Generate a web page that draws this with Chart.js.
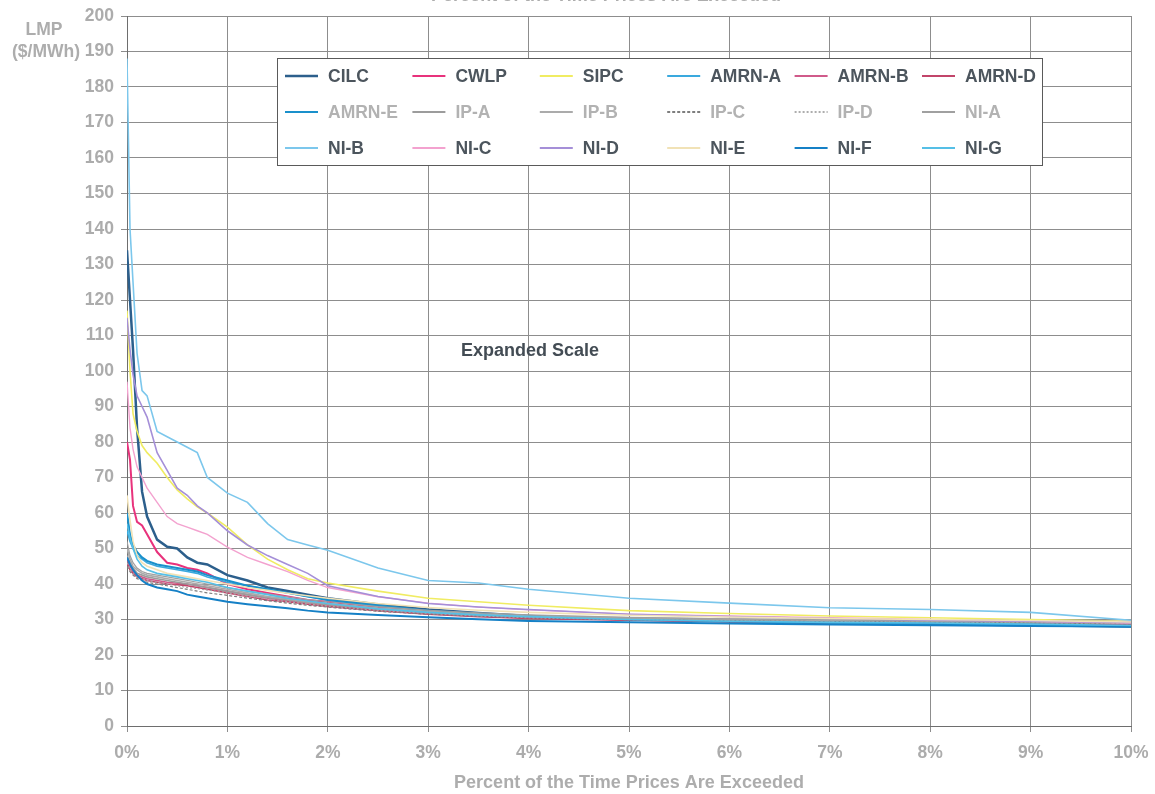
<!DOCTYPE html>
<html>
<head>
<meta charset="utf-8">
<script src="https://cdn.jsdelivr.net/npm/chart.js@4/dist/chart.umd.min.js"></script>
<style>
    body { margin: 0; background: #fff; }
    #wrap { position: relative; width: 1155px; height: 794px; }
</style>
</head>
<body>
<div id="wrap"><canvas id="lmp-chart" width="1155" height="794"></canvas></div>
<script>
// percent of time prices are exceeded (x)
var pct   = [0, 0.03, 0.06, 0.1, 0.15, 0.2, 0.3, 0.4, 0.5, 0.6, 0.7, 0.8, 1.0, 1.2, 1.4, 1.6, 1.8, 2.0, 2.5, 3, 3.5, 4, 5, 6, 7, 8, 9, 10];

// LMP ($/MWh) per zone
var cilc  = [134, 120, 106, 84, 66, 59, 52.5, 50.5, 50, 47.5, 46, 45.5, 42.5, 41, 39, 38, 37, 36, 34.2, 32.8, 31.8, 31, 30, 29.5, 29, 28.7, 28.4, 28];
var cwlp  = [80, 75, 62, 57.5, 56.5, 54, 49, 46, 45.5, 44.5, 44, 43, 40, 38.5, 37.5, 36.5, 35.5, 35, 33.5, 32.3, 31.5, 30.8, 30, 29.6, 29.3, 29, 28.7, 28.4];
var sipc  = [117, 100, 88, 83, 79, 77, 74, 70, 66.5, 64, 61.7, 60, 56, 51, 47, 44, 41.5, 40.3, 38, 36, 35, 34, 32.5, 31.7, 31, 30.5, 30, 29.5];
var amrnA = [55, 52, 50, 48, 47, 46, 45, 44.5, 44, 43.5, 43, 42, 40.5, 39.5, 38.5, 37.5, 36.5, 35.5, 33.8, 32.5, 31.5, 31, 30.2, 29.6, 29.2, 28.9, 28.6, 28.2];
var amrnB = [47, 45, 43.5, 42.5, 42, 41.5, 41, 40.5, 40.2, 40, 39.5, 39, 38, 37, 36, 35.3, 34.7, 34, 32.8, 31.8, 31, 30.5, 29.9, 29.5, 29.3, 29, 28.8, 28.5];
var amrnD = [46, 44, 43, 42, 41.5, 41, 40.5, 40, 39.8, 39.5, 39, 38.5, 37.5, 36.5, 35.5, 35, 34.3, 33.7, 32.5, 31.5, 30.8, 30.3, 29.8, 29.4, 29.1, 28.9, 28.7, 28.4];
var amrnE = [60, 54, 51, 49, 47.5, 46.5, 45.5, 45, 44.5, 44, 43.5, 42.5, 41, 39.5, 38.5, 37.5, 36.5, 35.5, 34, 32.5, 31.6, 31, 30.1, 29.5, 29.1, 28.8, 28.5, 28];
var ipA   = [48, 46, 44.5, 43, 42.5, 42, 41.5, 41, 40.5, 40, 39.5, 39, 38, 37, 36.2, 35.5, 34.8, 34.2, 33, 32, 31.3, 30.8, 30.2, 29.8, 29.5, 29.3, 29.1, 28.8];
var ipB   = [50, 47, 45, 44, 43, 42.5, 42, 41.5, 41, 40.5, 40, 39.5, 38.5, 37.5, 36.5, 35.8, 35, 34.5, 33.2, 32.3, 31.6, 31, 30.5, 30.1, 29.9, 29.7, 29.6, 29.4];
var ipC   = [45, 43.5, 42.5, 41.5, 41, 40.5, 40, 39.5, 39, 38.5, 38, 37.5, 36.8, 36, 35.3, 34.6, 34, 33.5, 32.3, 31.5, 30.9, 30.5, 29.9, 29.6, 29.4, 29.2, 29, 28.7];
var ipD   = [46, 44, 43, 42, 41.5, 41, 40.5, 40, 39.5, 39, 38.7, 38.3, 37.5, 36.6, 35.8, 35, 34.4, 33.8, 32.6, 31.7, 31, 30.5, 30, 29.7, 29.5, 29.3, 29.1, 28.9];
var niA   = [52, 48, 46, 44.5, 43.5, 43, 42.5, 42, 41.5, 41, 40.5, 40, 39, 38, 37.2, 36.4, 35.6, 35, 33.6, 32.6, 31.9, 31.3, 30.6, 30.2, 29.9, 29.6, 29.4, 29.1];
var niB   = [188, 140, 125, 105, 94.5, 93, 83, 81.5, 80, 78.5, 77, 70, 65.6, 63, 57, 52.5, 51, 49.5, 44.5, 41, 40.3, 38.5, 36, 34.6, 33.3, 32.8, 32, 29.8];
var niC   = [97, 84, 78, 73, 70, 67, 63, 59, 57, 56, 55, 54, 50.4, 47.5, 45.5, 43.5, 41, 39, 36.4, 34.6, 33.5, 32.7, 31.5, 31, 30.5, 30, 29.5, 29];
var niD   = [115, 106, 99, 93, 90, 87, 77, 72, 67, 65, 62, 60, 55, 51, 48, 45.5, 43, 39.5, 36.5, 34.5, 33.5, 32.8, 31.5, 30.8, 30.3, 29.8, 29.5, 29.2];
var niE   = [65, 58, 52, 48, 46, 45, 44, 43, 42.5, 42, 41.5, 41, 40, 39, 38.2, 37.4, 36.7, 36, 34.5, 33.4, 32.6, 32, 31.2, 30.7, 30.3, 30, 29.7, 29.3];
var niF   = [47.5, 45.5, 44, 42.5, 41, 40, 39, 38.5, 38, 37, 36.5, 36, 35, 34.3, 33.7, 33.2, 32.5, 32, 31.3, 30.6, 30.1, 29.6, 29.2, 28.9, 28.6, 28.4, 28.2, 28];
var niG   = [57, 53, 50, 47, 45, 44, 43, 42.5, 42, 41.5, 41, 40.5, 39, 38, 37, 36, 35.2, 34.5, 33, 32, 31.3, 30.8, 30, 29.5, 29.2, 29, 28.7, 28.3];

// legend order (3 rows x 6 columns)
var zoneNames  = ["CILC", "CWLP", "SIPC", "AMRN-A", "AMRN-B", "AMRN-D",
                  "AMRN-E", "IP-A", "IP-B", "IP-C", "IP-D", "NI-A",
                  "NI-B", "NI-C", "NI-D", "NI-E", "NI-F", "NI-G"];
var zoneValues = [cilc, cwlp, sipc, amrnA, amrnB, amrnD,
                  amrnE, ipA, ipB, ipC, ipD, niA,
                  niB, niC, niD, niE, niF, niG];

var yTicks = { min: 0, max: 200, step: 10 };
var xTicks = { min: 0, max: 10, step: 1 };

var LMP_Chart =
{
    chart: null,

    colors: ["#2c5f8c", "#e8327c", "#f0ec62", "#3aa9de", "#d05a8a", "#c2456a",
             "#1a90cb", "#9c9c9c", "#ababab", "#7e7e7e", "#a5a5a5", "#a0a0a0",
             "#7cc7ec", "#f3a2cf", "#a58fd8", "#f1e2b6", "#1580c6", "#55bfe6"],
    widths: [2.5, 2, 1.6, 1.6, 1.6, 1.6,
             2, 1.6, 1.6, 1.2, 1.2, 1.2,
             1.6, 1.4, 1.6, 1.6, 2, 1.6],
    dashes: [[], [], [], [], [], [],
             [], [], [], [3, 2], [2, 2], [],
             [], [], [], [], [], []],
    labelColors: ["#4c555d", "#4c555d", "#4c555d", "#4c555d", "#4c555d", "#4c555d",
                  "#b2b2b2", "#b2b2b2", "#b2b2b2", "#b2b2b2", "#b2b2b2", "#b2b2b2",
                  "#4c555d", "#4c555d", "#4c555d", "#4c555d", "#4c555d", "#4c555d"],

    init: function()
    {
        var datasets = [];
        $each(zoneNames, function(i, name){
            datasets.push({
                label: name,
                data: zoneValues[i].map(function(v, k){ return {x: pct[k], y: v}; }),
                borderColor: LMP_Chart.colors[i],
                borderWidth: LMP_Chart.widths[i],
                borderDash: LMP_Chart.dashes[i],
                pointRadius: 0,
                tension: 0,
                fill: false
            });
        });

        var tickFont = { family: "Liberation Sans, Arial", size: 17.5, weight: "bold" };
        var container = document.getElementById("lmp-chart");
        this.chart = new Chart(container, {
            type: "line",
            data: { datasets: datasets.reverse() },
            options: {
                responsive: false,
                animation: false,
                layout: { padding: { top: 16, right: 24, left: 0, bottom: 0 } },
                plugins: {
                    legend: { display: false },
                    tooltip: { enabled: false }
                },
                scales: {
                    x: {
                        type: "linear",
                        min: xTicks.min,
                        max: xTicks.max,
                        afterFit: function(scale){
                            scale.height = 68;
                            scale.paddingLeft = 0;
                            scale.paddingRight = 0;
                        },
                        ticks: {
                            stepSize: xTicks.step,
                            padding: 11,
                            color: "#acacac",
                            font: tickFont,
                            callback: function(v){ return v + "%"; }
                        },
                        grid: { color: "#8d8d8d", lineWidth: 1, tickLength: 6 },
                        border: { color: "#6e6e6e" }
                    },
                    y: {
                        min: yTicks.min,
                        max: yTicks.max,
                        afterFit: function(scale){
                            scale.width = 127;
                            scale.paddingTop = 0;
                            scale.paddingBottom = 0;
                        },
                        ticks: {
                            stepSize: yTicks.step,
                            padding: 7,
                            color: "#acacac",
                            font: tickFont
                        },
                        grid: { color: "#8d8d8d", lineWidth: 1, tickLength: 6 },
                        border: { color: "#6e6e6e" }
                    }
                }
            },
            plugins: [LMP_Chart.textPlugin]
        });
    },

    textPlugin: {
        id: "lmpText",
        afterDraw: function(chart)
        {
            var ctx = chart.ctx;
            var font = "bold 18px 'Liberation Sans', Arial";
            ctx.save();
            ctx.textAlign = "center";
            ctx.textBaseline = "middle";
            ctx.font = "bold 17.5px 'Liberation Sans', Arial";
            ctx.fillStyle = "#adadad";
            ctx.fillText("LMP", 44, 30);
            ctx.fillText("($/MWh)", 46, 52);

            ctx.font = font;
            ctx.fillText("Percent of the Time Prices Are Exceeded", 629, 783);
            ctx.textBaseline = "alphabetic";
            ctx.fillText("Percent of the Time Prices Are Exceeded", 606, 1);

            ctx.textBaseline = "middle";
            ctx.fillStyle = "#434c54";
            ctx.fillText("Expanded Scale", 530, 351);

            LMP_Chart.drawLegend(chart);
            ctx.restore();
        }
    },

    drawLegend: function(chart)
    {
        var ctx = chart.ctx;
        var box = { left: 277.5, top: 58.5, right: 1042.5, bottom: 165.5 };
        var rows = [76, 112, 148];
        var colX = 285, colStep = 127.4;

        ctx.fillStyle = "#ffffff";
        ctx.fillRect(box.left, box.top, box.right - box.left, box.bottom - box.top);
        ctx.strokeStyle = "#5a5a5a";
        ctx.lineWidth = 1;
        ctx.setLineDash([]);
        ctx.strokeRect(box.left, box.top, box.right - box.left, box.bottom - box.top);

        ctx.font = "bold 17.5px 'Liberation Sans', Arial";
        ctx.textAlign = "left";
        ctx.textBaseline = "middle";
        $each(zoneNames, function(i, name){
            var x = colX + (i % 6) * colStep;
            var y = rows[Math.floor(i / 6)];
            ctx.strokeStyle = LMP_Chart.colors[i];
            ctx.lineWidth = Math.max(LMP_Chart.widths[i], 1.8);
            ctx.setLineDash(LMP_Chart.dashes[i]);
            ctx.beginPath();
            ctx.moveTo(x, y);
            ctx.lineTo(x + 33, y);
            ctx.stroke();
            ctx.setLineDash([]);
            ctx.fillStyle = LMP_Chart.labelColors[i];
            ctx.fillText(name, x + 43, y + 1);
        });
    }
};

function $each(list, fn){
    for (var i = 0; i < list.length; i++) fn(i, list[i]);
}

LMP_Chart.init();
</script>
</body>
</html>
